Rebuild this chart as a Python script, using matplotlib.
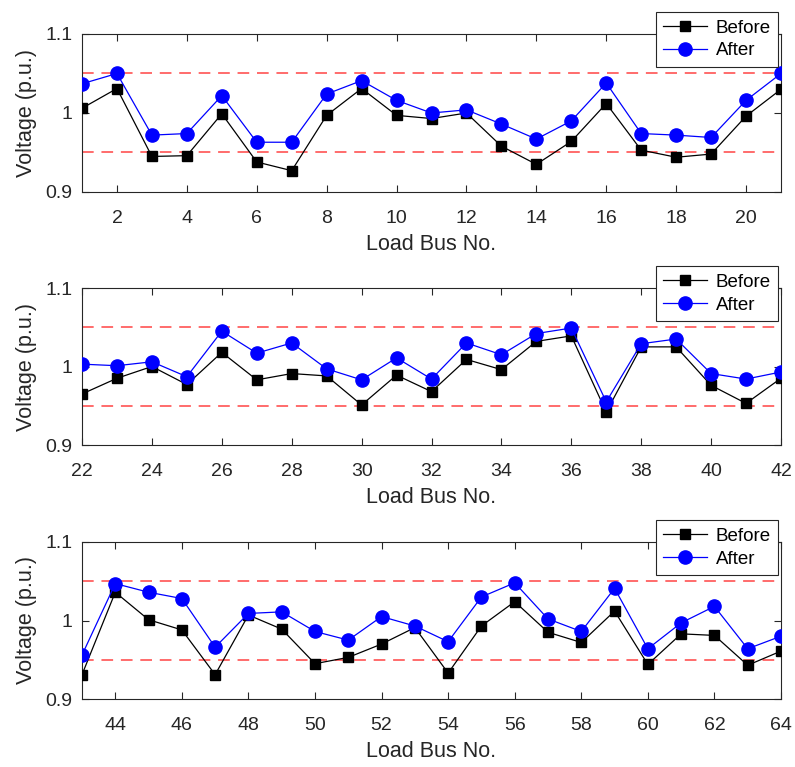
import numpy as np
import matplotlib.pyplot as plt

plt.rcParams['font.family'] = ['Liberation Sans', 'DejaVu Sans']

bus1 = list(range(1, 22))
before1 = [1.006, 1.031, 0.945, 0.946, 0.999, 0.938, 0.927, 0.997, 1.031, 0.997, 0.993,
           1.000, 0.958, 0.935, 0.964, 1.012, 0.953, 0.944, 0.948, 0.996, 1.030]
after1 = [1.037, 1.050, 0.972, 0.974, 1.022, 0.963, 0.963, 1.024, 1.041, 1.016, 1.000,
          1.004, 0.986, 0.967, 0.990, 1.038, 0.974, 0.972, 0.969, 1.016, 1.050]

bus2 = list(range(22, 43))
before2 = [0.965, 0.985, 1.000, 0.977, 1.018, 0.983, 0.991, 0.988, 0.951, 0.989, 0.968,
           1.009, 0.996, 1.032, 1.039, 0.942, 1.025, 1.025, 0.976, 0.953, 0.985]
after2 = [1.003, 1.001, 1.006, 0.987, 1.045, 1.017, 1.030, 0.997, 0.983, 1.011, 0.984,
          1.030, 1.015, 1.042, 1.049, 0.955, 1.029, 1.035, 0.991, 0.984, 0.993]

bus3 = list(range(43, 65))
before3 = [0.931, 1.036, 1.001, 0.988, 0.931, 1.007, 0.989, 0.945, 0.953, 0.970, 0.991,
           0.933, 0.993, 1.024, 0.985, 0.972, 1.012, 0.944, 0.983, 0.981, 0.943, 0.961]
after3 = [0.956, 1.047, 1.036, 1.028, 0.966, 1.009, 1.011, 0.986, 0.975, 1.005, 0.993,
          0.973, 1.030, 1.048, 1.002, 0.986, 1.041, 0.964, 0.997, 1.018, 0.964, 0.980]

limits = [0.95, 1.05]
panels = [(bus1, before1, after1, 2), (bus2, before2, after2, 22), (bus3, before3, after3, 44)]

fig = plt.figure(figsize=(7.95, 7.67), dpi=100)
W, H = 795.0, 767.0
boxes = [(34, 192), (288, 445), (542, 699)]
left, right = 82, 781

for (bus, before, after, t0), (top, bot) in zip(panels, boxes):
    ax = fig.add_axes([left / W, 1 - bot / H, (right - left) / W, (bot - top) / H])
    for lim in limits:
        ax.axhline(lim, color='#ff6b6b', linestyle='--', linewidth=1.4, dashes=(6, 4), zorder=1)
    ax.plot(bus, before, color='k', linewidth=0.9, marker='s', markersize=7.5,
            markerfacecolor='k', markeredgecolor='k', label='Before', zorder=3)
    ax.plot(bus, after, color='b', linewidth=0.9, marker='o', markersize=9.5,
            markerfacecolor='b', markeredgecolor='b', label='After', zorder=4)
    ax.set_xlim(bus[0], bus[-1])
    ax.set_ylim(0.9, 1.1)
    ax.set_xticks(np.arange(t0, bus[-1] + 1, 2))
    ax.set_yticks([0.9, 1.0, 1.1])
    ax.set_yticklabels(['0.9', '1', '1.1'])
    ax.tick_params(direction='in', top=True, right=True, labelsize=14, colors='#262626',
                   length=5, width=0.8, pad=7)
    ax.tick_params(axis='x', pad=13)
    for s in ax.spines.values():
        s.set_color('#262626')
        s.set_linewidth(0.8)
    ax.set_xlabel('Load Bus No.', fontsize=15.5, color='#262626', labelpad=5)
    ax.set_ylabel('Voltage (p.u.)', fontsize=15.5, color='#262626', labelpad=6)
    leg = ax.legend(loc='upper right', bbox_to_anchor=(0.996, 1.139), fontsize=13.5,
                    frameon=True, fancybox=False, edgecolor='#262626', framealpha=1,
                    handlelength=2.35, borderpad=0.4, labelspacing=0.3, handletextpad=0.45,
                    borderaxespad=0)
    leg.get_frame().set_linewidth(0.8)
    leg.set_zorder(10)

fig.savefig('out.png', dpi=100)
